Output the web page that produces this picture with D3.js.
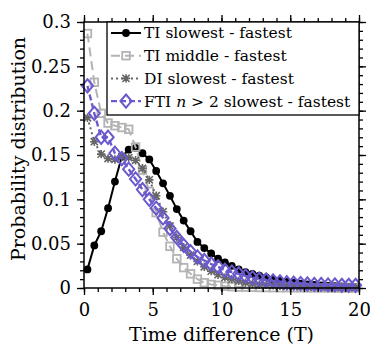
<!DOCTYPE html>
<html>
<head>
<meta charset="utf-8">
<script src="https://cdn.jsdelivr.net/npm/d3@7"></script>
<style>
  body { margin: 0; background: #fff; }
  svg, svg text { font-family: "DejaVu Serif", "Liberation Serif", "Times New Roman", serif; }
</style>
</head>
<body>
<div id="chart"></div>
<script>
// bin centres (T)
const timeDiff = [0.25, 0.75, 1.25, 1.75, 2.25, 2.75, 3.25, 3.75, 4.25, 4.75,
  5.25, 5.75, 6.25, 6.75, 7.25, 7.75, 8.25, 8.75, 9.25, 9.75,
  10.25, 10.75, 11.25, 11.75, 12.25, 12.75, 13.25, 13.75, 14.25, 14.75,
  15.25, 15.75, 16.25, 16.75, 17.25, 17.75, 18.25, 18.75, 19.25, 19.75];

const tiSlowest = [0.021, 0.048, 0.064, 0.090, 0.120, 0.148, 0.156, 0.158, 0.152, 0.145,
  0.132, 0.118, 0.104, 0.089, 0.076, 0.064, 0.052, 0.045, 0.039, 0.033,
  0.029, 0.025, 0.021, 0.018, 0.016, 0.014, 0.012, 0.010, 0.008, 0.007,
  0.006, 0.005, 0.004, 0.0035, 0.003, 0.0025, 0.002, 0.0018, 0.0015, 0.0012];

const tiMiddle = [0.287, 0.232, 0.197, 0.186, 0.183, 0.181, 0.179, 0.159, 0.133, 0.109,
  0.085, 0.063, 0.047, 0.033, 0.023, 0.016, 0.010, 0.006, 0.004, 0.003,
  0.002, 0.0015, 0.001, 0.001, 0.0008, 0.0006, 0.0005, 0.0004, 0.0003, 0.0003,
  0.0002, 0.0002, 0.0001, 0.0001, 0.0001, 0.0001, 0, 0, 0, 0];

const diSlowest = [0.192, 0.165, 0.151, 0.146, 0.145, 0.148, 0.147, 0.144, 0.135, 0.122,
  0.104, 0.086, 0.070, 0.057, 0.046, 0.037, 0.030, 0.024, 0.019, 0.015,
  0.012, 0.010, 0.008, 0.006, 0.005, 0.004, 0.0035, 0.003, 0.0025, 0.002,
  0.0018, 0.0015, 0.0012, 0.001, 0.001, 0.0008, 0.0007, 0.0006, 0.0005, 0.0005];

const ftiSlowest = [0.228, 0.197, 0.170, 0.170, 0.152, 0.146, 0.134, 0.123, 0.111, 0.100,
  0.090, 0.079, 0.067, 0.057, 0.048, 0.041, 0.035, 0.031, 0.027, 0.024,
  0.020, 0.018, 0.016, 0.0135, 0.0115, 0.010, 0.009, 0.008, 0.007, 0.006,
  0.0055, 0.005, 0.0045, 0.004, 0.004, 0.0035, 0.0035, 0.003, 0.003, 0.003];

const seriesNames = ["TI slowest - fastest", "TI middle - fastest", "DI slowest - fastest", "FTI n > 2 slowest - fastest"];
const xTicks = [0, 5, 10, 15, 20];
const yTicks = [0, 0.05, 0.1, 0.15, 0.2, 0.25, 0.3];

const FONT = "'DejaVu Serif', 'Liberation Serif', 'Times New Roman', serif";

const W = 370, H = 345;
const margin = { top: 22, right: 11, bottom: 57, left: 84 };

const svg = d3.select("#chart").append("svg")
  .attr("width", W).attr("height", H)
  .attr("font-family", FONT);

const x = d3.scaleLinear().domain([0, 20]).range([margin.left, W - margin.right]);
const y = d3.scaleLinear().domain([0, 0.3]).range([H - margin.bottom, margin.top]);

const styles = [
  { values: tiSlowest, color: "#000", width: 2, dash: null, marker: "circle" },
  { values: tiMiddle, color: "#b3b3b3", width: 2, dash: "9,5", marker: "square" },
  { values: diSlowest, color: "#666", width: 2, dash: "2,3", marker: "star" },
  { values: ftiSlowest, color: "#6a5acd", width: 2.4, dash: "6,3", marker: "diamond" }
];

function drawMarker(g, type, cx, cy, color) {
  if (type === "circle") {
    g.append("circle").attr("cx", cx).attr("cy", cy).attr("r", 3.9).attr("fill", color);
  } else if (type === "square") {
    g.append("rect").attr("x", cx - 3.8).attr("y", cy - 3.8).attr("width", 7.6).attr("height", 7.6)
      .attr("fill", "none").attr("stroke", color).attr("stroke-width", 1.8);
  } else if (type === "star") {
    const r = 3.6;
    g.append("path")
      .attr("d", `M${cx - r},${cy - r}L${cx + r},${cy + r}M${cx - r},${cy + r}L${cx + r},${cy - r}M${cx},${cy - r - 0.6}L${cx},${cy + r + 0.6}M${cx - r - 0.6},${cy}L${cx + r + 0.6},${cy}`)
      .attr("stroke", color).attr("stroke-width", 1.6).attr("fill", "none");
  } else {
    const a = 5.6, b = 6.6;
    g.append("path")
      .attr("d", `M${cx},${cy - b}L${cx + a},${cy}L${cx},${cy + b}L${cx - a},${cy}Z`)
      .attr("fill", "none").attr("stroke", color).attr("stroke-width", 2);
  }
}

const line = d3.line().x(d => x(d[0])).y(d => y(d[1]));

const plot = svg.append("g");
styles.forEach(s => {
  const pts = timeDiff.map((t, i) => [t, s.values[i]]);
  plot.append("path")
    .attr("d", line(pts))
    .attr("fill", "none")
    .attr("stroke", s.color)
    .attr("stroke-width", s.width)
    .attr("stroke-dasharray", s.dash);
  const mg = plot.append("g");
  pts.forEach(p => drawMarker(mg, s.marker, x(p[0]), y(p[1]), s.color));
});

// axes: major and minor ticks, outward, on all four sides
const xMinor = d3.range(0, 21, 1);
const yMinor = d3.range(0, 0.301, 0.01);

function styleAxis(g) {
  g.attr("font-family", FONT).attr("font-size", 18);
  g.select(".domain").remove();
  g.selectAll("line").attr("stroke", "#000").attr("stroke-width", 1.3);
  g.selectAll("text").attr("fill", "#000");
}

svg.append("g").attr("transform", `translate(0,${y(0)})`)
  .call(d3.axisBottom(x).tickValues(xMinor).tickSize(4).tickFormat(""))
  .call(styleAxis);
svg.append("g").attr("transform", `translate(0,${y(0)})`)
  .call(d3.axisBottom(x).tickValues(xTicks).tickSize(7).tickPadding(8).tickFormat(d3.format("d")))
  .call(styleAxis);
svg.append("g").attr("transform", `translate(0,${y(0.3)})`)
  .call(d3.axisTop(x).tickValues(xMinor).tickSize(4).tickFormat(""))
  .call(styleAxis);
svg.append("g").attr("transform", `translate(0,${y(0.3)})`)
  .call(d3.axisTop(x).tickValues(xTicks).tickSize(7).tickFormat(""))
  .call(styleAxis);

svg.append("g").attr("transform", `translate(${x(0)},0)`)
  .call(d3.axisLeft(y).tickValues(yMinor).tickSize(4).tickFormat(""))
  .call(styleAxis);
svg.append("g").attr("transform", `translate(${x(0)},0)`)
  .call(d3.axisLeft(y).tickValues(yTicks).tickSize(7).tickPadding(6).tickFormat(d => d === 0 ? "0" : String(+d.toFixed(2))))
  .call(styleAxis);
svg.append("g").attr("transform", `translate(${x(20)},0)`)
  .call(d3.axisRight(y).tickValues(yMinor).tickSize(4).tickFormat(""))
  .call(styleAxis);
svg.append("g").attr("transform", `translate(${x(20)},0)`)
  .call(d3.axisRight(y).tickValues(yTicks).tickSize(7).tickFormat(""))
  .call(styleAxis);

// frame
svg.append("rect")
  .attr("x", x(0)).attr("y", y(0.3))
  .attr("width", x(20) - x(0)).attr("height", y(0) - y(0.3))
  .attr("fill", "none").attr("stroke", "#000").attr("stroke-width", 1.5);

// legend
const lg = svg.append("g");
lg.append("rect")
  .attr("x", 107).attr("y", y(0.3))
  .attr("width", x(20) - 107).attr("height", 93)
  .attr("fill", "#fff").attr("stroke", "#000").attr("stroke-width", 1.3);
styles.forEach((s, i) => {
  const cy = 33 + i * 22.7;
  lg.append("line").attr("x1", 111).attr("x2", 141).attr("y1", cy).attr("y2", cy)
    .attr("stroke", s.color).attr("stroke-width", s.width).attr("stroke-dasharray", s.dash);
  drawMarker(lg, s.marker, 126, cy, s.color);
  const t = lg.append("text").attr("x", 144).attr("y", cy).attr("dy", "0.35em")
    .attr("font-size", 15.5).attr("fill", "#000");
  if (i === 3) {
    t.append("tspan").text("FTI ");
    t.append("tspan").attr("font-style", "italic").text("n");
    t.append("tspan").text(" > 2 slowest - fastest");
  } else {
    t.text(seriesNames[i]);
  }
});

// axis titles
svg.append("text")
  .attr("x", (x(0) + x(20)) / 2).attr("y", 341)
  .attr("text-anchor", "middle").attr("font-size", 19)
  .text("Time difference (T)");
svg.append("text")
  .attr("transform", `translate(25,${(y(0) + y(0.3)) / 2 - 6}) rotate(-90)`)
  .attr("text-anchor", "middle").attr("font-size", 19)
  .text("Probability distribution");
</script>
</body>
</html>
